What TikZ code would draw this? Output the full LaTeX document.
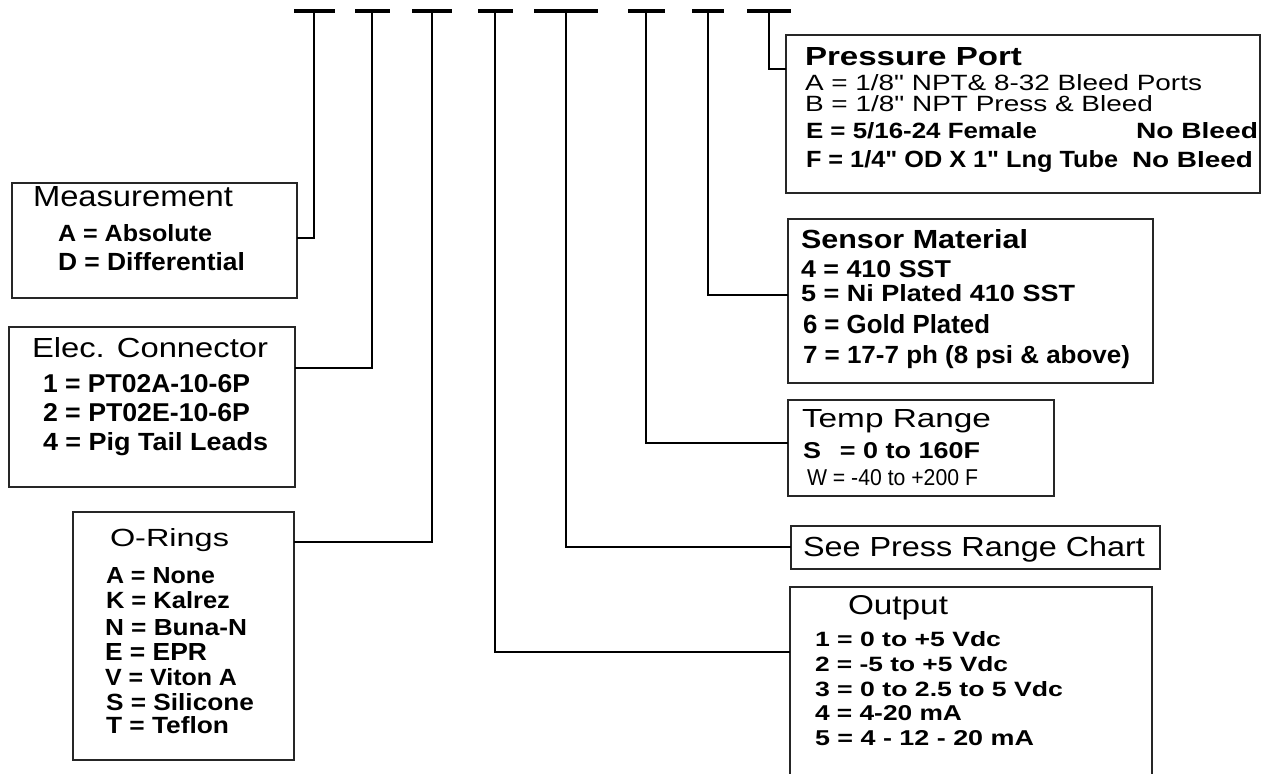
\documentclass[tikz,border=0pt]{standalone}
\usepackage{fontspec}
\setmainfont{Liberation Sans}[Ligatures=TeXOff]
\usepackage{graphicx}
\newcommand\fitline[3]{\resizebox{#1pt}{#2pt}{#3}}
\begin{document}
\begin{tikzpicture}[x=1pt,y=-1pt,
  box/.style={draw=black!85,line width=1.8pt,anchor=north west,inner sep=0pt,outer sep=0pt},
  conn/.style={line width=1.7pt,black},
  tick/.style={fill=black,inner sep=0pt,outer sep=0pt,minimum height=3.5pt},
  txt/.style={anchor=base west,inner sep=0pt,outer sep=0pt,text=black}]
\useasboundingbox (0,0) rectangle (1270,774);
% boxes
\node[box,minimum width=285pt,minimum height=115pt] (meas) at (12,183) {};
\node[box,minimum width=286pt,minimum height=160pt] (elec) at (9,327) {};
\node[box,minimum width=221pt,minimum height=248pt] (oring) at (73,512) {};
\node[box,minimum width=474pt,minimum height=158pt] (port) at (786,35) {};
\node[box,minimum width=365pt,minimum height=164pt] (sens) at (788,219) {};
\node[box,minimum width=266pt,minimum height=96pt] (temp) at (788,400) {};
\node[box,minimum width=369pt,minimum height=43pt] (press) at (791,526) {};
\begin{scope}
\clip (0,0) rectangle (1270,774);
\node[box,minimum width=362pt,minimum height=200pt] (out) at (790,587) {};
\end{scope}
% top ticks
\node[tick,minimum width=41pt] (d1) at (314,11) {};
\node[tick,minimum width=35pt] (d2) at (372,11) {};
\node[tick,minimum width=40pt] (d3) at (432,11) {};
\node[tick,minimum width=35pt] (d4) at (495,11) {};
\node[tick,minimum width=64pt] (d5) at (566,11) {};
\node[tick,minimum width=37pt] (d6) at (646,11) {};
\node[tick,minimum width=32pt] (d7) at (708,11) {};
\node[tick,minimum width=44pt] (d8) at (769,11) {};
% connectors
\draw[conn] (d1.center) |- (meas.east |- 0,238);
\draw[conn] (d2.center) |- (elec.east |- 0,368);
\draw[conn] (d3.center) |- (oring.east |- 0,542);
\draw[conn] (d4.center) |- (out.west |- 0,652);
\draw[conn] (d5.center) |- (press.west |- 0,547);
\draw[conn] (d6.center) |- (temp.west |- 0,443);
\draw[conn] (d7.center) |- (sens.west |- 0,295);
\draw[conn] (d8.center) |- (port.west |- 0,69);
% Measurement
\node[txt] (m0) at (33,206) {\fitline{200}{20}{Measurement}};
\node[txt] (m1) at (58,241) {\fitline{154}{17}{\bfseries A = Absolute}};
\node[txt] (m2) at (58,270) {\fitline{187}{18}{\bfseries D = Differential}};
% Elec connector
\node[txt] (e0) at (32,357) {\fitline{236}{20}{Elec. Connector}};
\node[txt] (e1) at (43,392) {\fitline{207}{18}{\bfseries 1 = PT02A-10-6P}};
\node[txt] (e2) at (43,421) {\fitline{207}{18}{\bfseries 2 = PT02E-10-6P}};
\node[txt] (e3) at (43,450) {\fitline{225}{18}{\bfseries 4 = Pig Tail Leads}};
% O-Rings
\node[txt] (o0) at (110,546) {\fitline{119}{18}{O-Rings}};
\node[txt] (o1) at (106,583) {\fitline{109}{16}{\bfseries A = None}};
\node[txt] (o2) at (106,608) {\fitline{124}{17}{\bfseries K = Kalrez}};
\node[txt] (o3) at (105,635) {\fitline{142}{16}{\bfseries N = Buna-N}};
\node[txt] (o4) at (105,660) {\fitline{102}{17}{\bfseries E = EPR}};
\node[txt] (o5) at (105,685) {\fitline{132}{17}{\bfseries V = Viton A}};
\node[txt] (o6) at (106,710) {\fitline{148}{17}{\bfseries S = Silicone}};
\node[txt] (o7) at (106,733) {\fitline{123}{17}{\bfseries T = Teflon}};
% Pressure Port
\node[txt] (p0) at (805,65) {\fitline{217}{18}{\bfseries Pressure Port}};
\node[txt] (p1) at (805,90) {\fitline{397}{16}{A = 1/8" NPT\& 8-32 Bleed Ports}};
\node[txt] (p2) at (805,111) {\fitline{348}{16}{B = 1/8" NPT Press \& Bleed}};
\node[txt] (p3) at (806,138) {\fitline{231}{16}{\bfseries E = 5/16-24 Female}};
\node[txt] (p3b) at (1136,138) {\fitline{122}{16}{\bfseries No Bleed}};
\node[txt] (p4) at (806,167) {\fitline{312}{17}{\bfseries F = 1/4" OD X 1" Lng Tube}};
\node[txt] (p4b) at (1132,167) {\fitline{121}{16}{\bfseries No Bleed}};
% Sensor Material
\node[txt] (s0) at (801,248) {\fitline{227}{19}{\bfseries Sensor Material}};
\node[txt] (s1) at (801,277) {\fitline{150}{17}{\bfseries 4 = 410 SST}};
\node[txt] (s2) at (801,301) {\fitline{274}{17}{\bfseries 5 = Ni Plated 410 SST}};
\node[txt] (s3) at (803,333) {\fitline{187}{19}{\bfseries 6 = Gold Plated}};
\node[txt] (s4) at (803,363) {\fitline{327}{18}{\bfseries 7 = 17-7 ph (8 psi \& above)}};
% Temp Range
\node[txt] (t0) at (802,427) {\fitline{189}{18}{Temp Range}};
\node[txt] (t1) at (803,458) {\fitline{177}{16}{\bfseries S\hspace{0.7em}= 0 to 160F}};
\node[txt] (t2) at (807,485) {\fitline{171}{16}{W = -40 to +200 F}};
% See Press Range Chart
\node[txt] (r0) at (803,556) {\fitline{342}{20}{See Press Range Chart}};
% Output
\node[txt] (u0) at (848,614) {\fitline{100}{19}{Output}};
\node[txt] (u1) at (815,646) {\fitline{186}{15}{\bfseries 1 = 0 to +5 Vdc}};
\node[txt] (u2) at (815,671) {\fitline{193}{15}{\bfseries 2 = -5 to +5 Vdc}};
\node[txt] (u3) at (815,696) {\fitline{248}{15}{\bfseries 3 = 0 to 2.5 to 5 Vdc}};
\node[txt] (u4) at (815,720) {\fitline{147}{15}{\bfseries 4 = 4-20 mA}};
\node[txt] (u5) at (815,745) {\fitline{219}{15}{\bfseries 5 = 4 - 12 - 20 mA}};
\end{tikzpicture}
\end{document}
